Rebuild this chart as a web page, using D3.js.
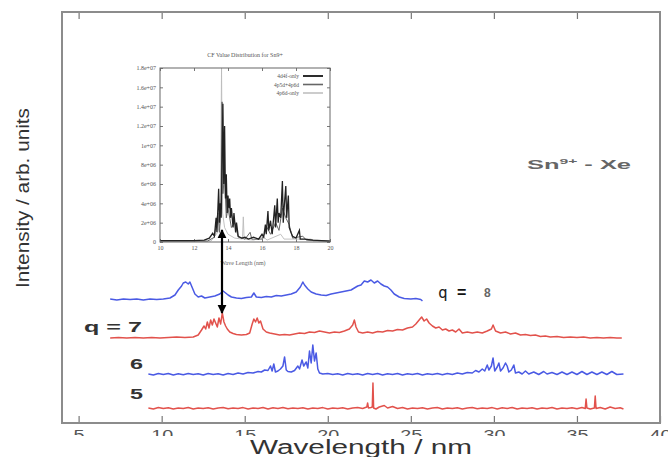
<!DOCTYPE html>
<html>
<head>
<meta charset="utf-8">
<script src="https://cdn.jsdelivr.net/npm/d3@7"></script>
<style>
  body { margin: 0; background: #fff; }
  svg { display: block; }
  text { font-family: "Liberation Sans", Arial, sans-serif; }
</style>
</head>
<body>
<svg id="chart" width="668" height="457"></svg>
<script>
/* main spectra: [wavelength nm, height above own baseline] */
var q8 = [[6.9,0.1],[7.3,0.0],[7.7,0.1],[8.1,0.05],[8.5,0.1],[8.9,0.0],[9.3,0.1],[9.7,0.05],[10.1,0.1],[10.5,0.2],[10.8,0.5],[11.0,1.0],[11.2,1.4],[11.3,1.7],[11.45,1.8],[11.6,1.6],[11.7,1.8],[11.85,1.2],[12.0,0.6],[12.2,0.3],[12.4,0.4],[12.6,0.2],[12.9,0.3],[13.2,0.4],[13.5,0.6],[13.7,0.9],[13.85,0.7],[14.0,0.5],[14.2,0.3],[14.5,0.2],[14.8,0.15],[15.1,0.25],[15.4,0.3],[15.55,0.7],[15.7,0.3],[16.0,0.25],[16.3,0.35],[16.6,0.3],[16.9,0.45],[17.2,0.4],[17.5,0.5],[17.8,0.6],[18.1,0.8],[18.35,1.3],[18.5,1.8],[18.6,1.5],[18.8,1.1],[19.0,0.8],[19.3,0.6],[19.6,0.5],[19.9,0.45],[20.2,0.6],[20.5,0.7],[20.8,0.8],[21.1,0.9],[21.4,1.0],[21.6,1.2],[21.8,1.4],[22.0,1.5],[22.2,1.9],[22.4,1.8],[22.6,2.0],[22.8,1.7],[23.0,1.9],[23.2,1.6],[23.4,1.4],[23.6,1.3],[23.8,1.0],[24.0,0.6],[24.3,0.3],[24.6,0.15],[25.0,0.1],[25.3,0.15],[25.6,0.05],[25.7,-0.1]];

var q7 = [[6.9,0.0],[7.4,0.05],[7.9,0.0],[8.4,0.05],[8.9,0.0],[9.4,0.05],[9.9,0.0],[10.4,0.05],[10.9,0.1],[11.4,0.05],[11.9,0.1],[12.2,0.3],[12.4,0.8],[12.55,1.2],[12.65,0.9],[12.75,1.6],[12.85,1.0],[12.95,1.8],[13.05,1.3],[13.15,1.9],[13.25,1.5],[13.35,1.1],[13.45,2.0],[13.55,1.4],[13.65,2.5],[13.75,1.6],[13.85,1.2],[13.95,0.9],[14.1,0.6],[14.3,0.45],[14.5,0.35],[14.8,0.3],[15.1,0.35],[15.3,0.5],[15.45,1.4],[15.55,1.9],[15.65,1.6],[15.75,2.0],[15.85,1.5],[15.95,1.7],[16.1,0.9],[16.3,0.6],[16.5,0.5],[16.8,0.4],[17.1,0.3],[17.4,0.35],[17.7,0.3],[18.0,0.4],[18.3,0.5],[18.6,0.45],[18.9,0.6],[19.2,0.55],[19.5,0.7],[19.8,0.6],[20.1,0.5],[20.4,0.6],[20.7,0.55],[21.0,0.7],[21.3,0.9],[21.5,1.3],[21.6,1.8],[21.7,1.1],[21.85,0.6],[22.1,0.5],[22.4,0.6],[22.7,0.5],[23.0,0.65],[23.3,0.6],[23.6,0.75],[23.9,0.7],[24.2,0.85],[24.5,0.8],[24.8,1.0],[25.1,1.1],[25.3,1.4],[25.5,1.8],[25.65,2.1],[25.8,1.7],[25.95,1.9],[26.1,1.5],[26.3,1.2],[26.5,1.0],[26.7,1.1],[26.9,0.8],[27.1,0.9],[27.3,0.7],[27.5,0.8],[27.7,0.6],[27.9,0.9],[28.1,0.5],[28.4,0.6],[28.7,0.5],[29.0,0.6],[29.3,0.5],[29.6,0.7],[29.85,0.9],[29.95,1.3],[30.1,0.7],[30.4,0.5],[30.7,0.6],[31.0,0.4],[31.3,0.5],[31.6,0.3],[31.9,0.35],[32.2,0.25],[32.5,0.3],[32.8,0.15],[33.1,0.2],[33.4,0.1],[33.8,0.15],[34.2,0.05],[34.6,0.1],[35.0,0.05],[35.4,0.1],[35.8,0.0],[36.2,0.05],[36.6,0.0],[37.0,0.05],[37.4,0.0],[37.7,0.0]];

var q6 = [[9.2,0.1],[9.5,0.0],[9.8,0.15],[10.1,0.05],[10.4,0.15],[10.7,0.0],[11.0,0.12],[11.3,0.02],[11.6,0.15],[11.9,0.05],[12.2,0.12],[12.5,0.0],[12.8,0.15],[13.1,0.05],[13.4,0.12],[13.7,0.0],[14.0,0.15],[14.3,0.05],[14.6,0.2],[14.9,0.1],[15.2,0.25],[15.5,0.2],[15.8,0.35],[16.0,0.3],[16.2,0.5],[16.4,0.45],[16.55,0.9],[16.65,0.4],[16.75,1.1],[16.85,0.3],[17.0,0.4],[17.15,0.6],[17.3,0.9],[17.4,1.8],[17.5,0.5],[17.6,0.35],[17.8,0.3],[18.0,0.45],[18.2,0.9],[18.3,0.6],[18.45,1.5],[18.55,0.9],[18.7,1.3],[18.8,0.7],[18.9,2.4],[19.0,1.2],[19.1,3.0],[19.2,1.4],[19.3,2.2],[19.4,0.6],[19.5,0.2],[19.7,0.1],[20.0,0.15],[20.3,0.05],[20.6,0.12],[20.9,0.0],[21.2,0.15],[21.5,0.05],[21.8,0.12],[22.1,0.0],[22.4,0.15],[22.7,0.05],[23.0,0.15],[23.3,0.0],[23.6,0.12],[23.9,0.05],[24.2,0.15],[24.5,0.0],[24.8,0.12],[25.1,0.05],[25.4,0.15],[25.7,0.0],[26.0,0.12],[26.3,0.05],[26.6,0.15],[26.9,0.02],[27.2,0.15],[27.5,0.05],[27.8,0.2],[28.1,0.1],[28.4,0.25],[28.7,0.2],[28.9,0.45],[29.1,0.3],[29.3,0.6],[29.45,0.4],[29.6,1.0],[29.7,0.5],[29.85,0.9],[29.95,1.7],[30.05,0.4],[30.2,0.8],[30.3,1.2],[30.4,0.4],[30.55,0.7],[30.7,1.2],[30.8,0.9],[30.9,0.3],[31.05,0.5],[31.2,1.0],[31.3,0.2],[31.5,0.3],[31.7,0.1],[31.9,0.4],[32.1,0.1],[32.4,0.3],[32.7,0.05],[33.0,0.35],[33.2,0.1],[33.5,0.25],[33.8,0.05],[34.1,0.3],[34.4,0.05],[34.7,0.3],[35.0,0.05],[35.3,0.35],[35.6,0.05],[35.9,0.3],[36.2,0.05],[36.5,0.3],[36.8,0.05],[37.1,0.35],[37.4,0.05],[37.8,0.1]];

var q5 = [[9.2,0.1],[9.5,0.0],[9.8,0.15],[10.1,0.05],[10.4,0.12],[10.7,0.0],[11.0,0.1],[11.3,0.05],[11.6,0.15],[11.9,0.0],[12.2,0.1],[12.5,0.05],[12.8,0.12],[13.1,0.0],[13.4,0.1],[13.7,0.15],[14.0,0.02],[14.3,0.1],[14.6,0.05],[14.9,0.14],[15.2,0.0],[15.5,0.1],[15.8,0.05],[16.1,0.15],[16.4,0.0],[16.7,0.12],[17.0,0.05],[17.3,0.15],[17.6,0.02],[17.9,0.1],[18.2,0.05],[18.5,0.12],[18.8,0.0],[19.1,0.1],[19.4,0.05],[19.7,0.14],[20.0,0.0],[20.3,0.1],[20.6,0.05],[20.9,0.12],[21.2,0.0],[21.5,0.1],[21.8,0.15],[22.1,0.05],[22.35,0.2],[22.4,0.6],[22.45,0.1],[22.6,0.15],[22.68,0.2],[22.72,2.6],[22.76,0.1],[22.9,0.0],[23.1,0.2],[23.4,0.35],[23.6,0.1],[23.9,0.25],[24.2,0.05],[24.5,0.15],[24.8,0.0],[25.1,0.1],[25.4,0.05],[25.7,0.12],[26.0,0.0],[26.3,0.1],[26.6,0.15],[26.9,0.0],[27.2,0.1],[27.5,0.05],[27.8,0.12],[28.1,0.0],[28.4,0.1],[28.7,0.15],[29.0,0.02],[29.3,0.1],[29.6,0.05],[29.9,0.14],[30.2,0.0],[30.5,0.12],[30.8,0.05],[31.1,0.15],[31.4,0.0],[31.7,0.1],[32.0,0.05],[32.3,0.12],[32.6,0.0],[32.9,0.1],[33.2,0.05],[33.5,0.15],[33.8,0.0],[34.1,0.1],[34.4,0.05],[34.7,0.12],[35.0,0.02],[35.3,0.15],[35.5,0.05],[35.55,1.0],[35.6,0.1],[35.8,0.0],[36.05,0.1],[36.1,1.3],[36.15,0.05],[36.4,0.15],[36.7,0.0],[37.0,0.2],[37.3,0.05],[37.6,0.12],[37.8,0.0]];

var traceNames = ['q8', 'q7', 'q6', 'q5'];
var traceData = [q8, q7, q6, q5];
var traceBase = [12.3, 8.5, 4.8, 1.4];
var traceColors = ['#4a5ae4', '#e2524c', '#4a5ae4', '#e2524c'];

var xTicks = [5, 10, 15, 20, 25, 30, 35, 40];

/* inset: computed CF values, [wavelength nm, value / 1e6] */
var insetA = [[10,0.15],[11,0.15],[12,0.15],[12.6,0.2],[12.9,0.4],[13.1,0.9],[13.2,0.6],[13.3,2.5],[13.35,1.0],[13.45,5.5],[13.5,2.0],[13.55,4.0],[13.6,2.5],[13.7,14.3],[13.75,6.0],[13.8,12.0],[13.85,4.5],[13.9,7.0],[13.95,3.0],[14.0,4.8],[14.05,3.5],[14.1,4.5],[14.15,2.5],[14.2,3.5],[14.3,1.5],[14.35,3.0],[14.45,1.0],[14.5,2.0],[14.6,0.6],[14.8,0.4],[15.0,0.5],[15.2,0.3],[15.5,0.5],[15.8,0.3],[16.0,0.8],[16.1,0.5],[16.2,1.8],[16.25,0.8],[16.35,3.2],[16.4,1.2],[16.5,2.2],[16.6,0.8],[16.75,3.8],[16.8,1.5],[16.9,4.5],[16.95,2.0],[17.0,3.0],[17.1,2.5],[17.2,6.3],[17.25,2.0],[17.3,3.5],[17.4,5.8],[17.45,2.5],[17.55,4.8],[17.6,1.5],[17.7,1.0],[17.8,0.6],[18.0,0.4],[18.2,1.2],[18.25,0.3],[18.5,0.3],[19.0,0.2],[19.5,0.15],[20,0.1]];
var insetB = [[10,0.1],[12.8,0.1],[13.2,0.5],[13.4,3.0],[13.5,1.0],[13.6,4.5],[13.65,14.5],[13.7,5.0],[13.8,7.0],[13.9,2.5],[14.0,3.5],[14.2,1.5],[14.4,2.0],[14.6,0.5],[15.0,0.3],[15.3,1.0],[15.4,0.3],[16.0,0.3],[16.3,1.5],[16.5,0.8],[16.8,2.0],[17.0,1.2],[17.2,3.5],[17.4,2.5],[17.6,1.8],[17.8,0.4],[18.4,0.6],[18.6,0.2],[20,0.1]];
var insetC = [[10,0.05],[13.0,0.1],[13.4,1.0],[13.55,2.0],[13.62,18.0],[13.68,3.0],[13.8,1.5],[14.0,0.8],[14.4,0.4],[14.85,0.3],[14.9,2.6],[14.95,0.3],[15.5,0.2],[16.1,0.5],[16.3,0.2],[17.1,0.8],[17.3,0.3],[18.9,0.3],[19.0,0.1],[20,0.05]];
var insetNames = ['4d4f-only', '4p5d+4p6d', '4p6d-only'];
var insetSeries = [insetA, insetB, insetC];
var insetColors = ['#222', '#666', '#bbb'];
var insetWidths = [1.3, 1.0, 0.9];
var insetXTicks = [10, 12, 14, 16, 18, 20];
var insetYTicks = [0, 2, 4, 6, 8, 10, 12, 14, 16, 18];
var insetYLabels = ['0', '2e+06', '4e+06', '6e+06', '8e+06', '1e+07', '1.2e+07', '1.4e+07', '1.6e+07', '1.8e+07'];

var svg = d3.select('#chart');

var x = d3.scaleLinear().domain([4, 40]).range([62, 660]);
var y = d3.scaleLinear().domain([0, 41.1]).range([423, 12]);

// tick labels are cut off just under their top half (clip is in the group's local coords)
svg.append('clipPath').attr('id', 'tickclip')
   .append('rect').attr('x', -10).attr('y', -423).attr('width', 690).attr('height', 436);

var gBottom = svg.append('g').attr('transform', 'translate(0,423)').attr('clip-path', 'url(#tickclip)');
gBottom.call(d3.axisBottom(x).tickValues(d3.range(5, 41, 1)).tickSize(-4).tickFormat(''));
gBottom.call(d3.axisBottom(x).tickValues(xTicks).tickSize(-7).tickPadding(7));
gBottom.select('.domain').remove();
gBottom.selectAll('line').attr('stroke', '#777').attr('stroke-width', 1.2);
gBottom.selectAll('text')
   .attr('fill', '#555')
   .style('font-size', '14px')
   .attr('textLength', function(d) { return String(d).length * 11; })
   .attr('lengthAdjust', 'spacingAndGlyphs');

var gTop = svg.append('g').attr('transform', 'translate(0,12)');
gTop.call(d3.axisTop(x).tickValues(d3.range(5, 40, 1)).tickSize(-4).tickFormat(''));
gTop.call(d3.axisTop(x).tickValues(xTicks.slice(0, 7)).tickSize(-7).tickFormat(''));
gTop.select('.domain').remove();
gTop.selectAll('line').attr('stroke', '#777').attr('stroke-width', 1.2);

// frame
svg.append('rect')
   .attr('x', 62).attr('y', 12).attr('width', 598).attr('height', 411)
   .attr('fill', 'none').attr('stroke', '#8c8c8c').attr('stroke-width', 2);

// spectra
var line = d3.line();
for (var i = 0; i < traceData.length; i++) {
	var base = traceBase[i];
	svg.append('path')
	   .datum(traceData[i])
	   .attr('class', traceNames[i])
	   .attr('fill', 'none')
	   .attr('stroke', traceColors[i])
	   .attr('stroke-width', 1.5)
	   .attr('stroke-linejoin', 'round')
	   .attr('d', line.x(function(d) { return x(d[0]); })
	                  .y(function(d) { return y(base + d[1]); }));
}

// inset
var ix = d3.scaleLinear().domain([10, 20]).range([160, 330]);
var iy = d3.scaleLinear().domain([0, 18]).range([242, 68]);
var inset = svg.append('g').attr('class', 'inset');

inset.append('text')
     .attr('x', 245).attr('y', 57)
     .attr('text-anchor', 'middle')
     .attr('fill', '#555')
     .style('font-family', '"Liberation Serif", serif')
     .style('font-size', '6px')
     .text('CF Value Distribution for Sn9+');

inset.append('g').attr('transform', 'translate(160,0)')
	.call(d3.axisLeft(iy).tickValues(insetYTicks).tickSize(-3).tickPadding(4)
	        .tickFormat(function(d, k) { return insetYLabels[k]; }));
inset.append('g').attr('transform', 'translate(330,0)')
	.call(d3.axisRight(iy).tickValues(insetYTicks).tickSize(-3).tickFormat(''));
inset.append('g').attr('transform', 'translate(0,242)')
	.call(d3.axisBottom(ix).tickValues(insetXTicks).tickSize(-3).tickPadding(4));
inset.append('g').attr('transform', 'translate(0,68)')
	.call(d3.axisTop(ix).tickValues(insetXTicks).tickSize(-3).tickFormat(''));
inset.selectAll('.domain').remove();
inset.selectAll('.tick line').attr('stroke', '#777');
inset.selectAll('.tick text')
     .attr('fill', '#555')
     .style('font-family', '"Liberation Serif", serif')
     .style('font-size', '6px');

var iLine = d3.line().x(function(d) { return ix(d[0]); }).y(function(d) { return iy(d[1]); });
for (var j = insetSeries.length - 1; j >= 0; j--) {
	inset.append('path')
	     .datum(insetSeries[j])
	     .attr('fill', 'none')
	     .attr('stroke', insetColors[j])
	     .attr('stroke-width', insetWidths[j])
	     .attr('d', iLine);
}

inset.append('rect')
     .attr('x', 160).attr('y', 68).attr('width', 170).attr('height', 174)
     .attr('fill', 'none').attr('stroke', '#666').attr('stroke-width', 1);

// inset legend
var leg = inset.selectAll('g.leg').data(insetNames).enter().append('g')
	.attr('class', 'leg')
	.attr('transform', function(d, k) { return 'translate(0,' + (76 + k * 8.5) + ')'; });
leg.append('text')
   .attr('x', 299).attr('y', 2)
   .attr('text-anchor', 'end')
   .attr('fill', '#555')
   .style('font-family', '"Liberation Serif", serif')
   .style('font-size', '5.5px')
   .text(function(d) { return d; });
leg.append('line')
   .attr('x1', 303).attr('x2', 323).attr('y1', 0).attr('y2', 0)
   .attr('stroke', function(d, k) { return insetColors[k]; })
   .attr('stroke-width', function(d, k) { return insetWidths[k] + 0.6; });

inset.append('text')
     .attr('x', 243).attr('y', 265)
     .attr('text-anchor', 'middle')
     .attr('fill', '#666')
     .style('font-family', '"Liberation Serif", serif')
     .style('font-size', '6px')
     .text('Wave Length (nm)');

// double arrow linking inset peak to the q = 7 peak
var defs = svg.append('defs');
defs.append('marker').attr('id', 'ahead')
    .attr('viewBox', '0 0 10 10').attr('refX', 9).attr('refY', 5)
    .attr('markerWidth', 4).attr('markerHeight', 4.5)
    .attr('markerUnits', 'strokeWidth').attr('orient', 'auto-start-reverse')
    .append('path').attr('d', 'M0,0 L10,5 L0,10 z').attr('fill', '#000');
svg.append('line')
   .attr('x1', 222).attr('x2', 222).attr('y1', 230).attr('y2', 313)
   .attr('stroke', '#000').attr('stroke-width', 2.2)
   .attr('marker-start', 'url(#ahead)').attr('marker-end', 'url(#ahead)');

// labels
var q8lab = svg.append('text').attr('x', 438).attr('y', 298);
q8lab.append('tspan').style('font-family', '"DejaVu Sans Mono", monospace').style('font-size', '16px').attr('fill', '#222').text('q');
q8lab.append('tspan').attr('x', 457).style('font-size', '16px').style('font-weight', 'bold').attr('fill', '#111').text('=');
q8lab.append('tspan').attr('x', 484).attr('dy', -1).style('font-size', '12px').style('font-weight', 'bold').attr('fill', '#666').text('8');

svg.append('text')
   .attr('x', 84).attr('y', 332)
   .attr('textLength', 58).attr('lengthAdjust', 'spacingAndGlyphs')
   .style('font-size', '15px').style('font-weight', 'bold').attr('fill', '#333')
   .text('q = 7');

svg.append('text').attr('x', 130).attr('y', 369)
   .style('font-size', '14px').style('font-weight', 'bold').attr('fill', '#333')
   .attr('textLength', 13).attr('lengthAdjust', 'spacingAndGlyphs').text('6');
svg.append('text').attr('x', 130).attr('y', 399)
   .style('font-size', '14px').style('font-weight', 'bold').attr('fill', '#333')
   .attr('textLength', 13).attr('lengthAdjust', 'spacingAndGlyphs').text('5');

var sn = svg.append('text').attr('x', 527).attr('y', 169)
   .style('font-size', '13px').style('font-weight', 'bold').attr('fill', '#666');
sn.append('tspan').text('Sn');
sn.append('tspan').attr('dy', -5).style('font-size', '8px').text('9+');
sn.append('tspan').attr('dy', 5).text(' - Xe');
sn.attr('textLength', 104).attr('lengthAdjust', 'spacingAndGlyphs');

// axis titles
svg.append('text')
   .attr('x', 361).attr('y', 454)
   .attr('text-anchor', 'middle')
   .attr('textLength', 222).attr('lengthAdjust', 'spacingAndGlyphs')
   .style('font-size', '20px').attr('fill', '#333')
   .text('Wavelength / nm');

svg.append('text')
   .attr('transform', 'translate(29,198) rotate(-90)')
   .attr('text-anchor', 'middle')
   .attr('textLength', 180).attr('lengthAdjust', 'spacingAndGlyphs')
   .style('font-size', '18px').attr('fill', '#333')
   .text('Intensity / arb. units');
</script>
</body>
</html>
